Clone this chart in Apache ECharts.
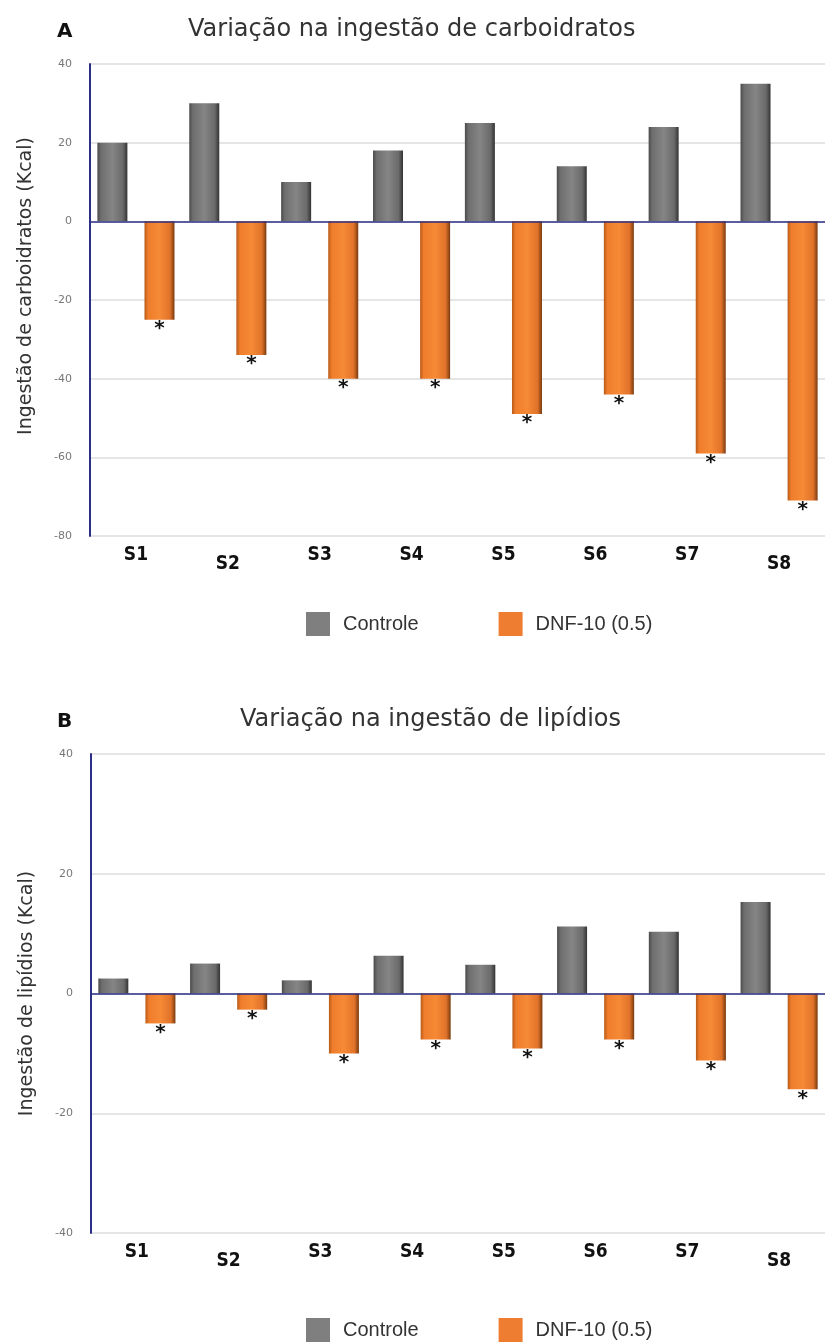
<!DOCTYPE html>
<html><head><meta charset="utf-8">
<script src="https://cdn.jsdelivr.net/npm/echarts@6/dist/echarts.min.js"></script>
<style>html,body{margin:0;padding:0;background:#fff}#c{width:825px;height:1342px}</style>
</head><body><div id="c"></div>
<script>
const categories = ['S1','S2','S3','S4','S5','S6','S7','S8'];
const lowLabels = ['S2','S8'];
const carbControle = [20, 30, 10, 18, 25, 14, 24, 35];
const carbDNF = [-25, -34, -40, -40, -49, -44, -59, -71];
const lipControle = [2.5, 5, 2.2, 6.3, 4.8, 11.2, 10.3, 15.3];
const lipDNF = [-5, -2.7, -10, -7.7, -9.2, -7.7, -11.2, -16];
const carbTicks = {min: -80, max: 40, interval: 20};
const lipTicks = {min: -40, max: 40, interval: 20};
const seriesNames = ['Controle', 'DNF-10 (0.5)'];

const NAVY = '#2b2f86';
const grayGrad = {type:'linear',x:0,y:0,x2:1,y2:0,colorStops:[
  {offset:0,color:'#4a4a4a'},{offset:0.12,color:'#6e6e6e'},{offset:0.5,color:'#858585'},
  {offset:0.85,color:'#6a6a6a'},{offset:1,color:'#333333'}]};
const orangeGrad = {type:'linear',x:0,y:0,x2:1,y2:0,colorStops:[
  {offset:0,color:'#b85a18'},{offset:0.12,color:'#ef7d2c'},{offset:0.5,color:'#f68a35'},
  {offset:0.85,color:'#e0732a'},{offset:1,color:'#7a3a0e'}]};

const catData = categories.map(c => lowLabels.includes(c)
  ? {value:c, textStyle:{padding:[9,0,0,0]}} : c);

function xAxisCfg(gi){
  return {type:'category', gridIndex:gi, data:catData,
    axisLine:{show:false, onZero:false}, axisTick:{show:false},
    axisLabel:{margin:10, fontSize:19, fontWeight:'bold', color:'#111',
      fontFamily:'"Liberation Sans Narrow","DejaVu Sans Condensed",sans-serif'}};
}
function yAxisCfg(gi, ticks, name, pad){
  return {type:'value', gridIndex:gi, min:ticks.min, max:ticks.max, interval:ticks.interval,
    name:name, nameLocation:'middle', nameGap:54,
    nameTextStyle:{fontSize:19, color:'#333', fontFamily:'"DejaVu Sans",sans-serif', padding:[0,0,0,pad]},
    axisLine:{show:true, lineStyle:{color:NAVY, width:2}}, axisTick:{show:false},
    axisLabel:{fontSize:11, color:'#777', margin:18, fontFamily:'"DejaVu Sans",sans-serif'},
    splitLine:{show:true, lineStyle:{color:'#dcdcdc', width:1.5}}};
}
const starLabel = {show:true, position:'bottom', distance:-1, formatter:'*',
  fontSize:20, fontWeight:'bold', color:'#111', fontFamily:'"DejaVu Sans",sans-serif'};

function barSeries(name, gi, data, grad, star, zero){
  const s = {name:name, type:'bar', xAxisIndex:gi, yAxisIndex:gi, data:data,
    barWidth:30, barGap:'57%', itemStyle:{color:grad}};
  if (star) s.label = starLabel;
  if (zero) s.markLine = {silent:true, symbol:'none', label:{show:false},
    lineStyle:{color:NAVY, width:1.5, type:'solid'}, data:[{yAxis:0}], animation:false};
  return s;
}
function legendCfg(top){
  return {top:top, left:301, itemWidth:24, itemHeight:24, itemGap:80, icon:'rect',
    textStyle:{fontSize:20, color:'#333', fontFamily:'"Liberation Sans",Arial,sans-serif', padding:[0,0,0,8]},
    data:[{name:seriesNames[0], itemStyle:{color:'#7f7f7f'}},
          {name:seriesNames[1], itemStyle:{color:'#ee7d31'}}]};
}

const chart = echarts.init(document.getElementById('c'), null, {renderer:'canvas'});
chart.setOption({
  animation:false,
  backgroundColor:'#fff',
  title:[
    {text:'A', left:52, top:17, textStyle:{fontSize:20, fontWeight:'bold', color:'#111', fontFamily:'"DejaVu Sans",sans-serif'}},
    {text:'Variação na ingestão de carboidratos', left:183, top:13, textStyle:{fontSize:24, fontWeight:'normal', color:'#333', fontFamily:'"DejaVu Sans",sans-serif'}},
    {text:'B', left:52, top:707, textStyle:{fontSize:20, fontWeight:'bold', color:'#111', fontFamily:'"DejaVu Sans",sans-serif'}},
    {text:'Variação na ingestão de lipídios', left:235, top:703, textStyle:{fontSize:24, fontWeight:'normal', color:'#333', fontFamily:'"DejaVu Sans",sans-serif'}}
  ],
  legend:[legendCfg(607), legendCfg(1313)],
  grid:[
    {left:90, right:0, top:64, height:472},
    {left:91, right:0, top:754, height:479}
  ],
  xAxis:[xAxisCfg(0), xAxisCfg(1)],
  yAxis:[yAxisCfg(0, carbTicks, 'Ingestão de carboidratos (Kcal)', 28),
         yAxisCfg(1, lipTicks, 'Ingestão de lipídios (Kcal)', 0)],
  series:[
    barSeries(seriesNames[0], 0, carbControle, grayGrad, false, true),
    barSeries(seriesNames[1], 0, carbDNF, orangeGrad, true, false),
    barSeries(seriesNames[0], 1, lipControle, grayGrad, false, true),
    barSeries(seriesNames[1], 1, lipDNF, orangeGrad, true, false)
  ]
});
</script></body></html>
